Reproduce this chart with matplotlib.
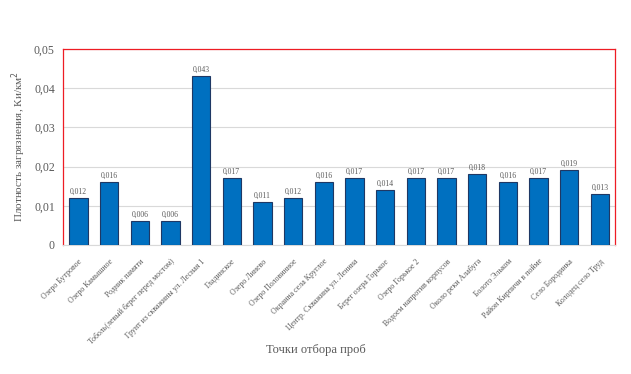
import matplotlib
matplotlib.use('Agg')
import matplotlib.pyplot as plt
import numpy as np

plt.rcParams['font.family'] = ['Liberation Serif', 'DejaVu Serif']

points = ['Озеро Бутровое', 'Озеро Камышное', 'Родник памяти',
          'Тоболь(левый берег перед мостом)', 'Грунт из скважины ул. Лесная 1',
          'Гладинское', 'Озеро Линево', 'Озеро Половинное', 'Окраина села Круглое',
          'Центр. Скважина ул. Ленина', 'Берег озера Горькое', 'Озеро Горькое 2',
          'Водоем напротив корпусов', 'Около реки Алабуга', 'Болото Эльком',
          'Район Кирпичи в пойме', 'Село Бородинка', 'Колодец село Труд']
density = [0.012, 0.016, 0.006, 0.006, 0.043, 0.017, 0.011, 0.012, 0.016,
           0.017, 0.014, 0.017, 0.017, 0.018, 0.016, 0.017, 0.019, 0.013]
yticks = [0, 0.01, 0.02, 0.03, 0.04, 0.05]
ytick_labels = ['0', '0,01', '0,02', '0,03', '0,04', '0,05']

grey = '#595959'

fig = plt.figure(figsize=(6.31, 3.74), dpi=100)
ax = fig.add_axes([0.1, 0.345, 0.875, 0.524])

x = np.arange(len(points))
bars = ax.bar(x, density, width=0.6, color='#0070C0', edgecolor='#1F3864',
              linewidth=0.8, zorder=3)

for bar, v in zip(bars, density):
    ax.text(bar.get_x() + bar.get_width() / 2, v + 0.0006,
            f'{v:.3f}'.replace('.', ','), ha='center', va='bottom',
            fontsize=5.5, color=grey)

ax.set_xlim(-0.5, len(points) - 0.5)
ax.set_ylim(0, 0.05)
ax.set_yticks(yticks)
ax.set_yticklabels(ytick_labels, fontsize=8.5, color=grey)
ax.set_xticks(x)
ax.set_xticklabels(points, rotation=45, ha='right', rotation_mode='anchor',
                   fontsize=5.7, color=grey)
ax.tick_params(axis='x', length=0, pad=9)
ax.tick_params(axis='y', length=0, pad=6)
ax.grid(axis='y', color='#D9D9D9', linewidth=0.8, zorder=0)

for side in ['left', 'right', 'top']:
    ax.spines[side].set_color('#EE1C24')
    ax.spines[side].set_linewidth(0.9)
ax.spines['bottom'].set_color('#D9D9D9')

ax.set_ylabel('Плотность загрязнения, Ки/км$^2$', fontsize=8, color=grey)
fig.text(0.5, 0.055, 'Точки отбора проб', ha='center', fontsize=9, color=grey)

plt.savefig('out.png', dpi=100)
